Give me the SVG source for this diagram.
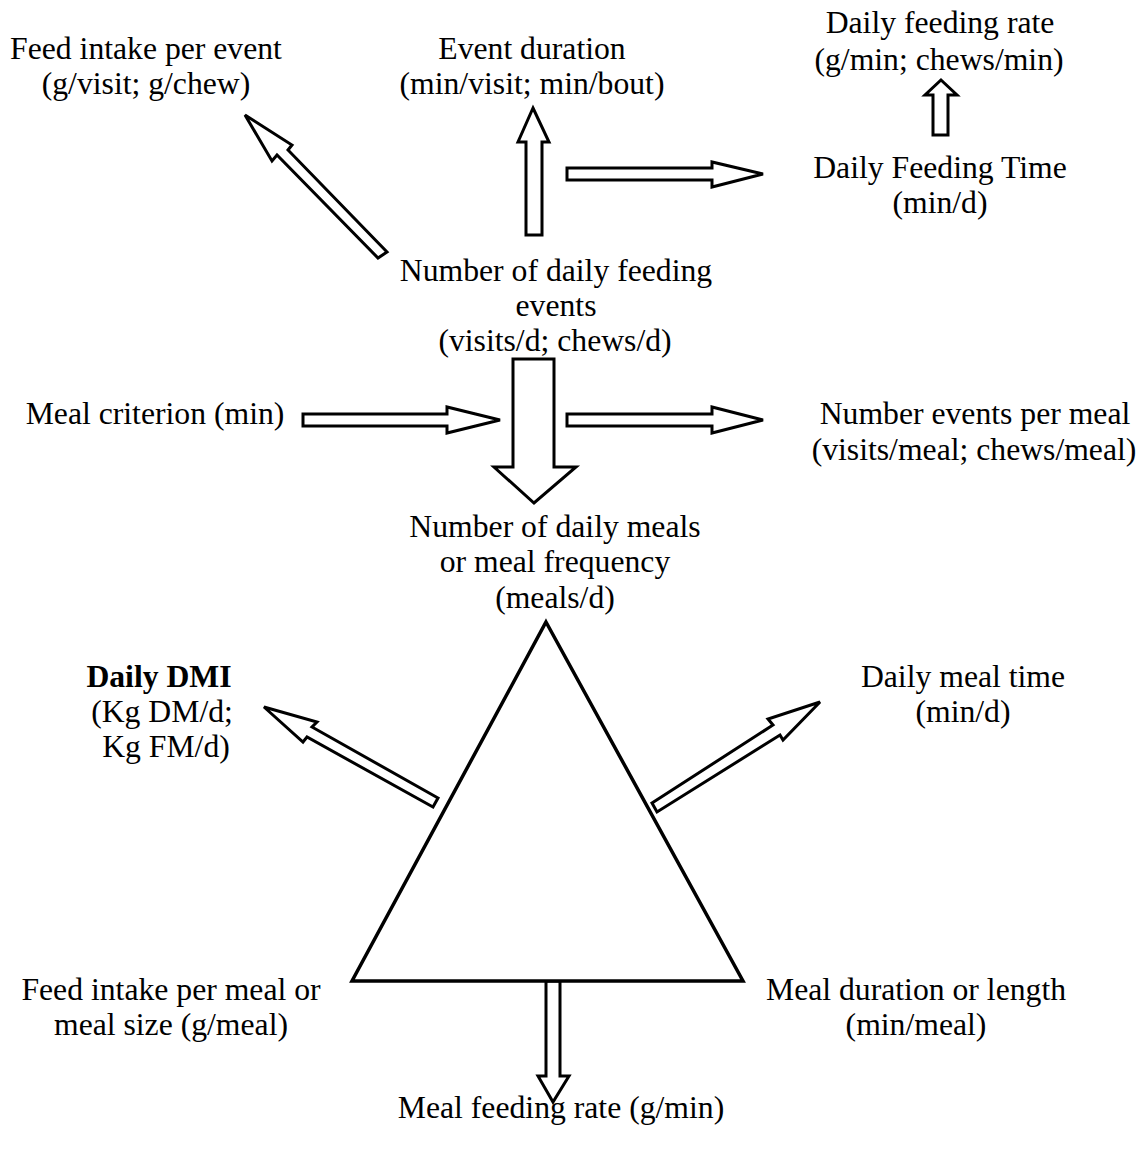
<svg xmlns="http://www.w3.org/2000/svg" width="1144" height="1149" viewBox="0 0 1144 1149">
<style>
text{font-family:"Liberation Serif","Times New Roman",serif;font-size:31.7px;fill:#000;text-anchor:middle}
.b{font-weight:bold}
.arr{fill:#fff;stroke:#000;stroke-width:3;stroke-linejoin:miter}
.tri{fill:#fff;stroke:#000;stroke-width:3.5;stroke-linejoin:miter}
</style>
<rect width="1144" height="1149" fill="#fff"/>
<g id="connectors">
<polygon class="arr" points="245,115 292,145 288,150 387,252 378,258 277,155 272,161"/>
<polygon class="arr" points="533,108 549,142 542,142 542,235 526,235 526,142 518,142"/>
<polygon class="arr" points="567,168 712,168 712,162 763,174 712,187 712,180 567,180"/>
<polygon class="arr" points="941,80 957,95 948,95 948,135 933,135 933,95 925,95"/>
<polygon class="arr" points="303,414 447,414 447,407 500,420 447,433 447,426 303,426"/>
<polygon class="arr" points="567,414 712,414 712,407 763,420 712,433 712,426 567,426"/>
<polygon class="arr" points="513,359 554,359 554,467 576,467 534,503 494,467 513,467"/>
<polygon class="arr" points="264,707 317,722 312,727 438,798 433,807 307,737 303,742"/>
<polygon class="arr" points="820,702 768,719 773,725 652,803 657,812 780,735 783,740"/>
<polygon class="arr" points="546,981 560,981 560,1076 569,1076 553,1102 538,1076 546,1076"/>
</g>
<g id="triangle">
<polygon class="tri" points="546,622 743,981 352,981"/>
</g>
<g id="feed-intake-event">
<text x="146" y="59">Feed intake per event</text>
<text x="146" y="94">(g/visit; g/chew)</text>
</g>
<g id="event-duration">
<text x="532" y="59">Event duration</text>
<text x="532" y="94">(min/visit; min/bout)</text>
</g>
<g id="daily-feeding-rate">
<text x="940" y="33">Daily feeding rate</text>
<text x="939" y="70">(g/min; chews/min)</text>
</g>
<g id="daily-feeding-time">
<text x="940" y="178">Daily Feeding Time</text>
<text x="940" y="213">(min/d)</text>
</g>
<g id="daily-feeding-events">
<text x="556" y="281">Number of daily feeding</text>
<text x="556" y="316">events</text>
<text x="555" y="351">(visits/d; chews/d)</text>
</g>
<g id="meal-criterion">
<text x="155" y="424">Meal criterion (min)</text>
</g>
<g id="events-per-meal">
<text x="975" y="424">Number events per meal</text>
<text x="974" y="460">(visits/meal; chews/meal)</text>
</g>
<g id="daily-meals">
<text x="555" y="537">Number of daily meals</text>
<text x="555" y="572">or meal frequency</text>
<text x="555" y="608">(meals/d)</text>
</g>
<g id="daily-dmi">
<text class="b" x="159" y="687">Daily DMI</text>
<text x="162" y="722">(Kg DM/d;</text>
<text x="166" y="757">Kg FM/d)</text>
</g>
<g id="daily-meal-time">
<text x="963" y="687">Daily meal time</text>
<text x="963" y="722">(min/d)</text>
</g>
<g id="meal-size">
<text x="171" y="1000">Feed intake per meal or</text>
<text x="171" y="1035">meal size (g/meal)</text>
</g>
<g id="meal-duration">
<text x="916" y="1000">Meal duration or length</text>
<text x="916" y="1035">(min/meal)</text>
</g>
<g id="meal-feeding-rate">
<text x="561" y="1118">Meal feeding rate (g/min)</text>
</g>
</svg>
